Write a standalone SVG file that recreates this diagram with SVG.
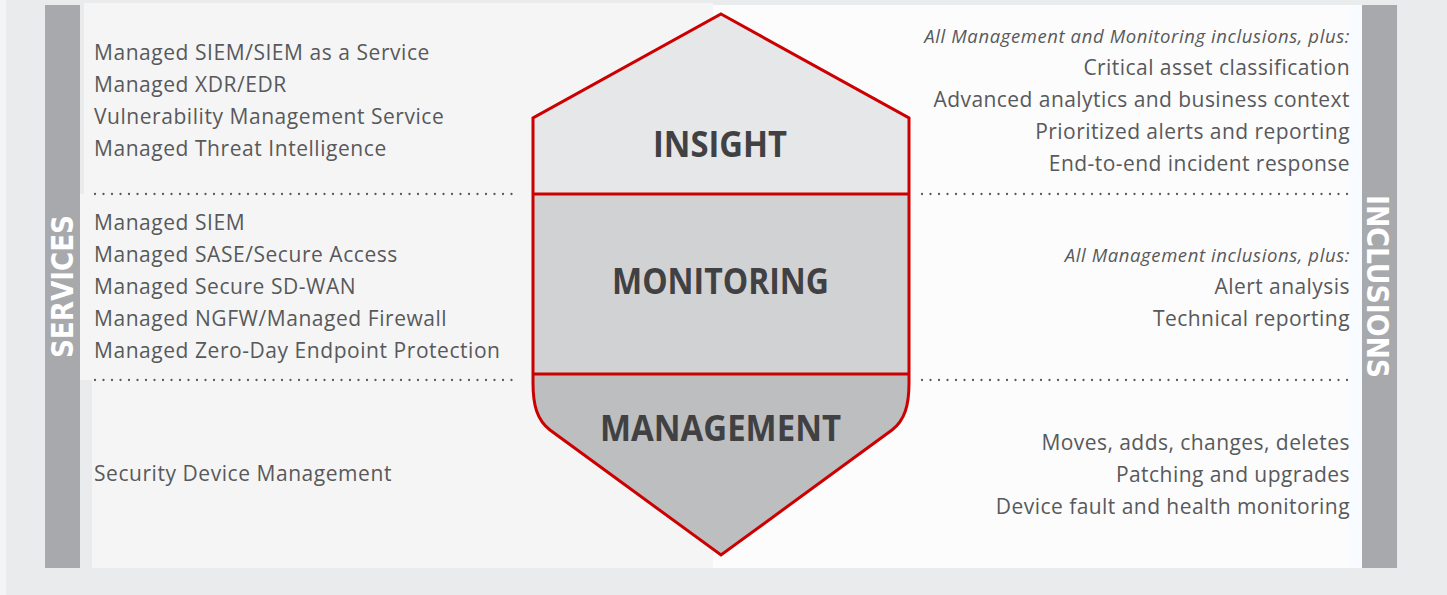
<svg xmlns="http://www.w3.org/2000/svg" width="1447" height="595" viewBox="0 0 1447 595">
  <style>
    .svc { font-family: "Open Sans", "Liberation Sans", sans-serif; font-size: 21px; letter-spacing: 0.55px; fill: #58595b; }
    .inc { font-family: "Open Sans", "Liberation Sans", sans-serif; font-size: 21px; letter-spacing: 0.45px; fill: #58595b; text-anchor: end; }
    .incit { font-family: "Open Sans", "Liberation Sans", sans-serif; font-size: 18.5px; letter-spacing: 0.6px; font-style: italic; fill: #58595b; text-anchor: end; }
    .lvl { font-family: "Open Sans", "Liberation Sans", sans-serif; font-size: 36px; font-weight: bold; fill: #414042; text-anchor: middle; }
    .bar { fill: #a7a9ac; }
    .bartxt { font-family: "DejaVu Sans Condensed", "DejaVu Sans", sans-serif; font-size: 31px; font-weight: bold; fill: #ffffff; text-anchor: middle; }
    .dots { stroke: #58595b; stroke-width: 2.3; stroke-linecap: round; stroke-dasharray: 0 8.5; fill: none; }
    .shield { stroke: #cc0000; stroke-width: 3; fill: none; stroke-linejoin: miter; }
  </style>

  <!-- backgrounds -->
  <rect x="0" y="0" width="1447" height="595" fill="#eaebed"/>
  <rect x="0" y="0" width="6" height="595" fill="#f4f5f6"/>
  <rect x="84" y="3" width="629" height="191" fill="#f5f5f5"/>
  <rect x="80" y="194" width="633" height="186" fill="#f5f5f5"/>
  <rect x="92" y="380" width="621" height="188" fill="#f5f5f5"/>
  <rect x="713" y="5" width="649" height="563" fill="#fcfcfd"/>
  <rect x="1348" y="5" width="14" height="563" fill="#f8fbff"/>

  <!-- side bars -->
  <g id="services-bar">
    <rect class="bar" x="45" y="5" width="35" height="563"/>
    <text class="bartxt" transform="translate(73,286.5) rotate(-90)" textLength="143" lengthAdjust="spacingAndGlyphs">SERVICES</text>
  </g>
  <g id="inclusions-bar">
    <rect class="bar" x="1362" y="5" width="35" height="563"/>
    <text class="bartxt" transform="translate(1367,286.5) rotate(90)" textLength="183" lengthAdjust="spacingAndGlyphs">INCLUSIONS</text>
  </g>

  <!-- dotted separators -->
  <g id="connectors">
    <line class="dots" x1="95" y1="194" x2="520" y2="194"/>
    <line class="dots" x1="95" y1="380" x2="520" y2="380"/>
    <line class="dots" x1="922" y1="194" x2="1350" y2="194"/>
    <line class="dots" x1="922" y1="380" x2="1350" y2="380"/>
  </g>

  <!-- shield tiers -->
  <g id="insight">
    <path d="M533,118 L721,14 L909,118 L909,194 L533,194 Z" fill="#e6e7e9"/>
    <text class="lvl" x="720" y="157" textLength="134" lengthAdjust="spacingAndGlyphs">INSIGHT</text>
  </g>
  <g id="monitoring">
    <rect x="533" y="194" width="376" height="180" fill="#d1d2d4"/>
    <text class="lvl" x="720.5" y="294" textLength="217" lengthAdjust="spacingAndGlyphs">MONITORING</text>
  </g>
  <g id="management">
    <path d="M533,374 L909,374 L909,383 C909,405 905,420 892,430 L721,555 L550,430 C537,420 533,405 533,383 Z" fill="#bcbec0"/>
    <text class="lvl" x="720.5" y="441" textLength="241" lengthAdjust="spacingAndGlyphs">MANAGEMENT</text>
  </g>
  <g id="shield-outline">
    <path class="shield" d="M721,14 L909,118 L909,383 C909,405 905,420 892,430 L721,555 L550,430 C537,420 533,405 533,383 L533,118 Z"/>
    <line class="shield" x1="533" y1="194" x2="909" y2="194"/>
    <line class="shield" x1="533" y1="374" x2="909" y2="374"/>
  </g>

  <!-- services -->
  <g id="services-insight">
    <text class="svc" x="94" y="60">Managed SIEM/SIEM as a Service</text>
    <text class="svc" x="94" y="92">Managed XDR/EDR</text>
    <text class="svc" x="94" y="124">Vulnerability Management Service</text>
    <text class="svc" x="94" y="156">Managed Threat Intelligence</text>
  </g>
  <g id="services-monitoring">
    <text class="svc" x="94" y="230">Managed SIEM</text>
    <text class="svc" x="94" y="262">Managed SASE/Secure Access</text>
    <text class="svc" x="94" y="294">Managed Secure SD-WAN</text>
    <text class="svc" x="94" y="326">Managed NGFW/Managed Firewall</text>
    <text class="svc" x="94" y="358">Managed Zero-Day Endpoint Protection</text>
  </g>
  <g id="services-management">
    <text class="svc" x="94" y="481">Security Device Management</text>
  </g>

  <!-- inclusions -->
  <g id="inclusions-insight">
    <text class="incit" x="1350" y="43">All Management and Monitoring inclusions, plus:</text>
    <text class="inc" x="1350" y="75">Critical asset classification</text>
    <text class="inc" x="1350" y="107">Advanced analytics and business context</text>
    <text class="inc" x="1350" y="139">Prioritized alerts and reporting</text>
    <text class="inc" x="1350" y="171">End-to-end incident response</text>
  </g>
  <g id="inclusions-monitoring">
    <text class="incit" x="1350" y="262">All Management inclusions, plus:</text>
    <text class="inc" x="1350" y="294">Alert analysis</text>
    <text class="inc" x="1350" y="326">Technical reporting</text>
  </g>
  <g id="inclusions-management">
    <text class="inc" x="1350" y="450">Moves, adds, changes, deletes</text>
    <text class="inc" x="1350" y="482">Patching and upgrades</text>
    <text class="inc" x="1350" y="514">Device fault and health monitoring</text>
  </g>
</svg>
